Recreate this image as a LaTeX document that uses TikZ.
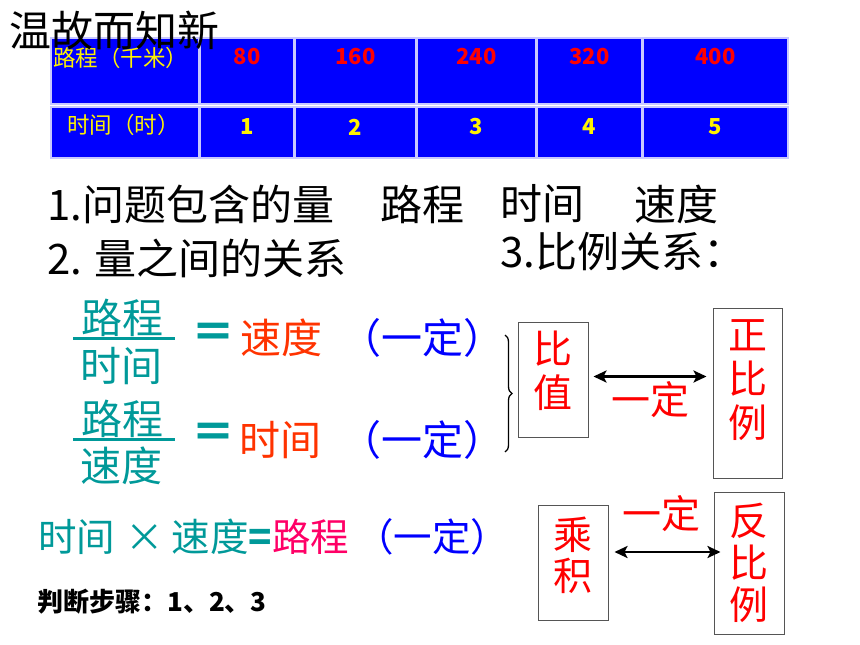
\documentclass[tikz,border=0pt]{standalone}
\usepackage{fontspec}
\setmainfont{Noto Sans CJK SC}
\usetikzlibrary{arrows.meta, decorations.pathreplacing}

\definecolor{tblblue}{RGB}{0,0,255}
\definecolor{cellline}{RGB}{200,200,255}
\definecolor{tealgreen}{RGB}{0,153,153}
\definecolor{orangered}{RGB}{255,51,0}
\definecolor{rosered}{RGB}{255,0,102}
\definecolor{boxgray}{RGB}{85,85,85}

\tikzset{
  cell/.style={fill=tblblue, draw=cellline, line width=1.2pt},
  head/.style={text=yellow, anchor=west, inner sep=0pt, font=\fontsize{22.5}{22.5}\selectfont},
  dist/.style={text=red, inner sep=0pt, font=\bfseries\fontsize{22}{22}\selectfont},
  hour/.style={text=yellow, inner sep=0pt, font=\bfseries\fontsize{22}{22}\selectfont},
  big/.style={inner sep=0pt, font=\fontsize{41}{41}\selectfont},
  line/.style={big, anchor=west, font=\fontsize{42}{42}\selectfont},
  fracline/.style={tealgreen, line width=3pt},
  box/.style={draw=boxgray, line width=1pt, inner sep=0pt},
  vtext/.style={text=red, align=center, inner sep=0pt, font=\fontsize{39}{44}\selectfont},
  dblarrow/.style={line width=2.6pt, {Stealth[length=13pt,width=12pt,inset=3pt]}-{Stealth[length=13pt,width=12pt,inset=3pt]}},
}

\begin{document}
\begin{tikzpicture}[x=1pt, y=-1pt]
\useasboundingbox (0,0) rectangle (860,645);
% table
\foreach \xa/\xb in {51/199, 200/294, 295/416, 417/536, 537/642, 643/788} {
  \draw[cell] (\xa,38) rectangle (\xb,104);
  \draw[cell] (\xa,107) rectangle (\xb,158);
}
\node[head] (disthead) at (53,58) {路程（千米）};
\node[head] (timehead) at (67,125) {时间（时）};
\foreach \cx/\d/\t in {247/80/1, 355.5/160/2, 476.5/240/3, 589.5/320/4, 715.5/400/5} {
  \node[dist] (d\t) at (\cx,57) {\d};
  \node[hour] (h\t) at (\cx,127) {\t};
}
\node[line] (title) at (9,30) {温故而知新};

% questions
\node[line] (q1) at (47,204) {1.问题包含的量};
\node[line] (w1) at (380,204) {路程};
\node[line] (w2) at (500,204) {时间};
\node[line] (w3) at (634,204) {速度};
\node[line] (q2) at (47,258) {2. 量之间的关系};
\node[line] (q3) at (500,252) {3.比例关系：};

% fractions
\node[big, text=tealgreen] (num1) at (122,318) {路程};
\draw[fracline] (73,338) -- (175,338);
\node[big, text=tealgreen] (den1) at (121,366) {时间};
\node[big, text=tealgreen, font=\bfseries\fontsize{44}{44}\selectfont] (eq1) at (213,336) {＝};
\node[big, text=orangered] (speed) at (281,338) {速度};
\node[big, text=blue] (fix1) at (422,338) {（一定）};

\node[big, text=tealgreen] (num2) at (122,419) {路程};
\draw[fracline] (73,439) -- (175,439);
\node[big, text=tealgreen] (den2) at (121,466) {速度};
\node[big, text=tealgreen, font=\bfseries\fontsize{44}{44}\selectfont] (eq2) at (213,436) {＝};
\node[big, text=orangered] (time) at (280,440) {时间};
\node[big, text=blue] (fix2) at (422,440) {（一定）};

\draw[line width=1.3pt, decorate, decoration={brace, amplitude=7pt}] (505,335) -- (505,452);

% direct proportion
\node[box, minimum width=70pt, minimum height=115pt] (ratio) at (553,379.5) {};
\node[vtext] at ([yshift=9pt]ratio.center) {比\\值};
\node[box, minimum width=69pt, minimum height=170pt] (direct) at (747.5,393) {};
\node[vtext] at ([yshift=13pt]direct.center) {正\\比\\例};
\draw[dblarrow, shorten <=5pt, shorten >=6pt] ([yshift=3pt]ratio.east) -- ([yshift=3pt]ratio.east -| direct.west)
  node[midway, below=4pt, inner sep=0pt, text=red, font=\fontsize{39}{39}\selectfont] (fix3) {一定};

% product
\node[line, text=tealgreen, font=\fontsize{38.5}{38.5}\selectfont] (prod) at (38,537)
  {时间\hspace{10pt}×\hspace{8pt}速度\textbf{=}\textcolor{rosered}{路程}\hspace{6pt}\textcolor{blue}{（一定）}};
\node[box, minimum width=70pt, minimum height=115pt] (product) at (573,562.5) {};
\node[vtext, font=\fontsize{39}{41}\selectfont] at ([yshift=7pt]product.center) {乘\\积};
\node[box, minimum width=70pt, minimum height=142pt] (inverse) at (749,563) {};
\node[vtext, font=\fontsize{39}{42}\selectfont] at (inverse.center) {反\\比\\例};
\draw[dblarrow, shorten <=6pt, shorten >=-7pt] ([yshift=10.5pt]product.east) -- ([yshift=10.5pt]product.east -| inverse.west)
  node[midway, above=19pt, inner sep=0pt, text=red, font=\fontsize{39}{39}\selectfont] (fix4) {一定};

% steps
\node[anchor=west, inner sep=0pt, font=\bfseries\fontsize{26}{26}\selectfont] (steps) at (37,602) {判断步骤：1、2、3};
\end{tikzpicture}
\end{document}
